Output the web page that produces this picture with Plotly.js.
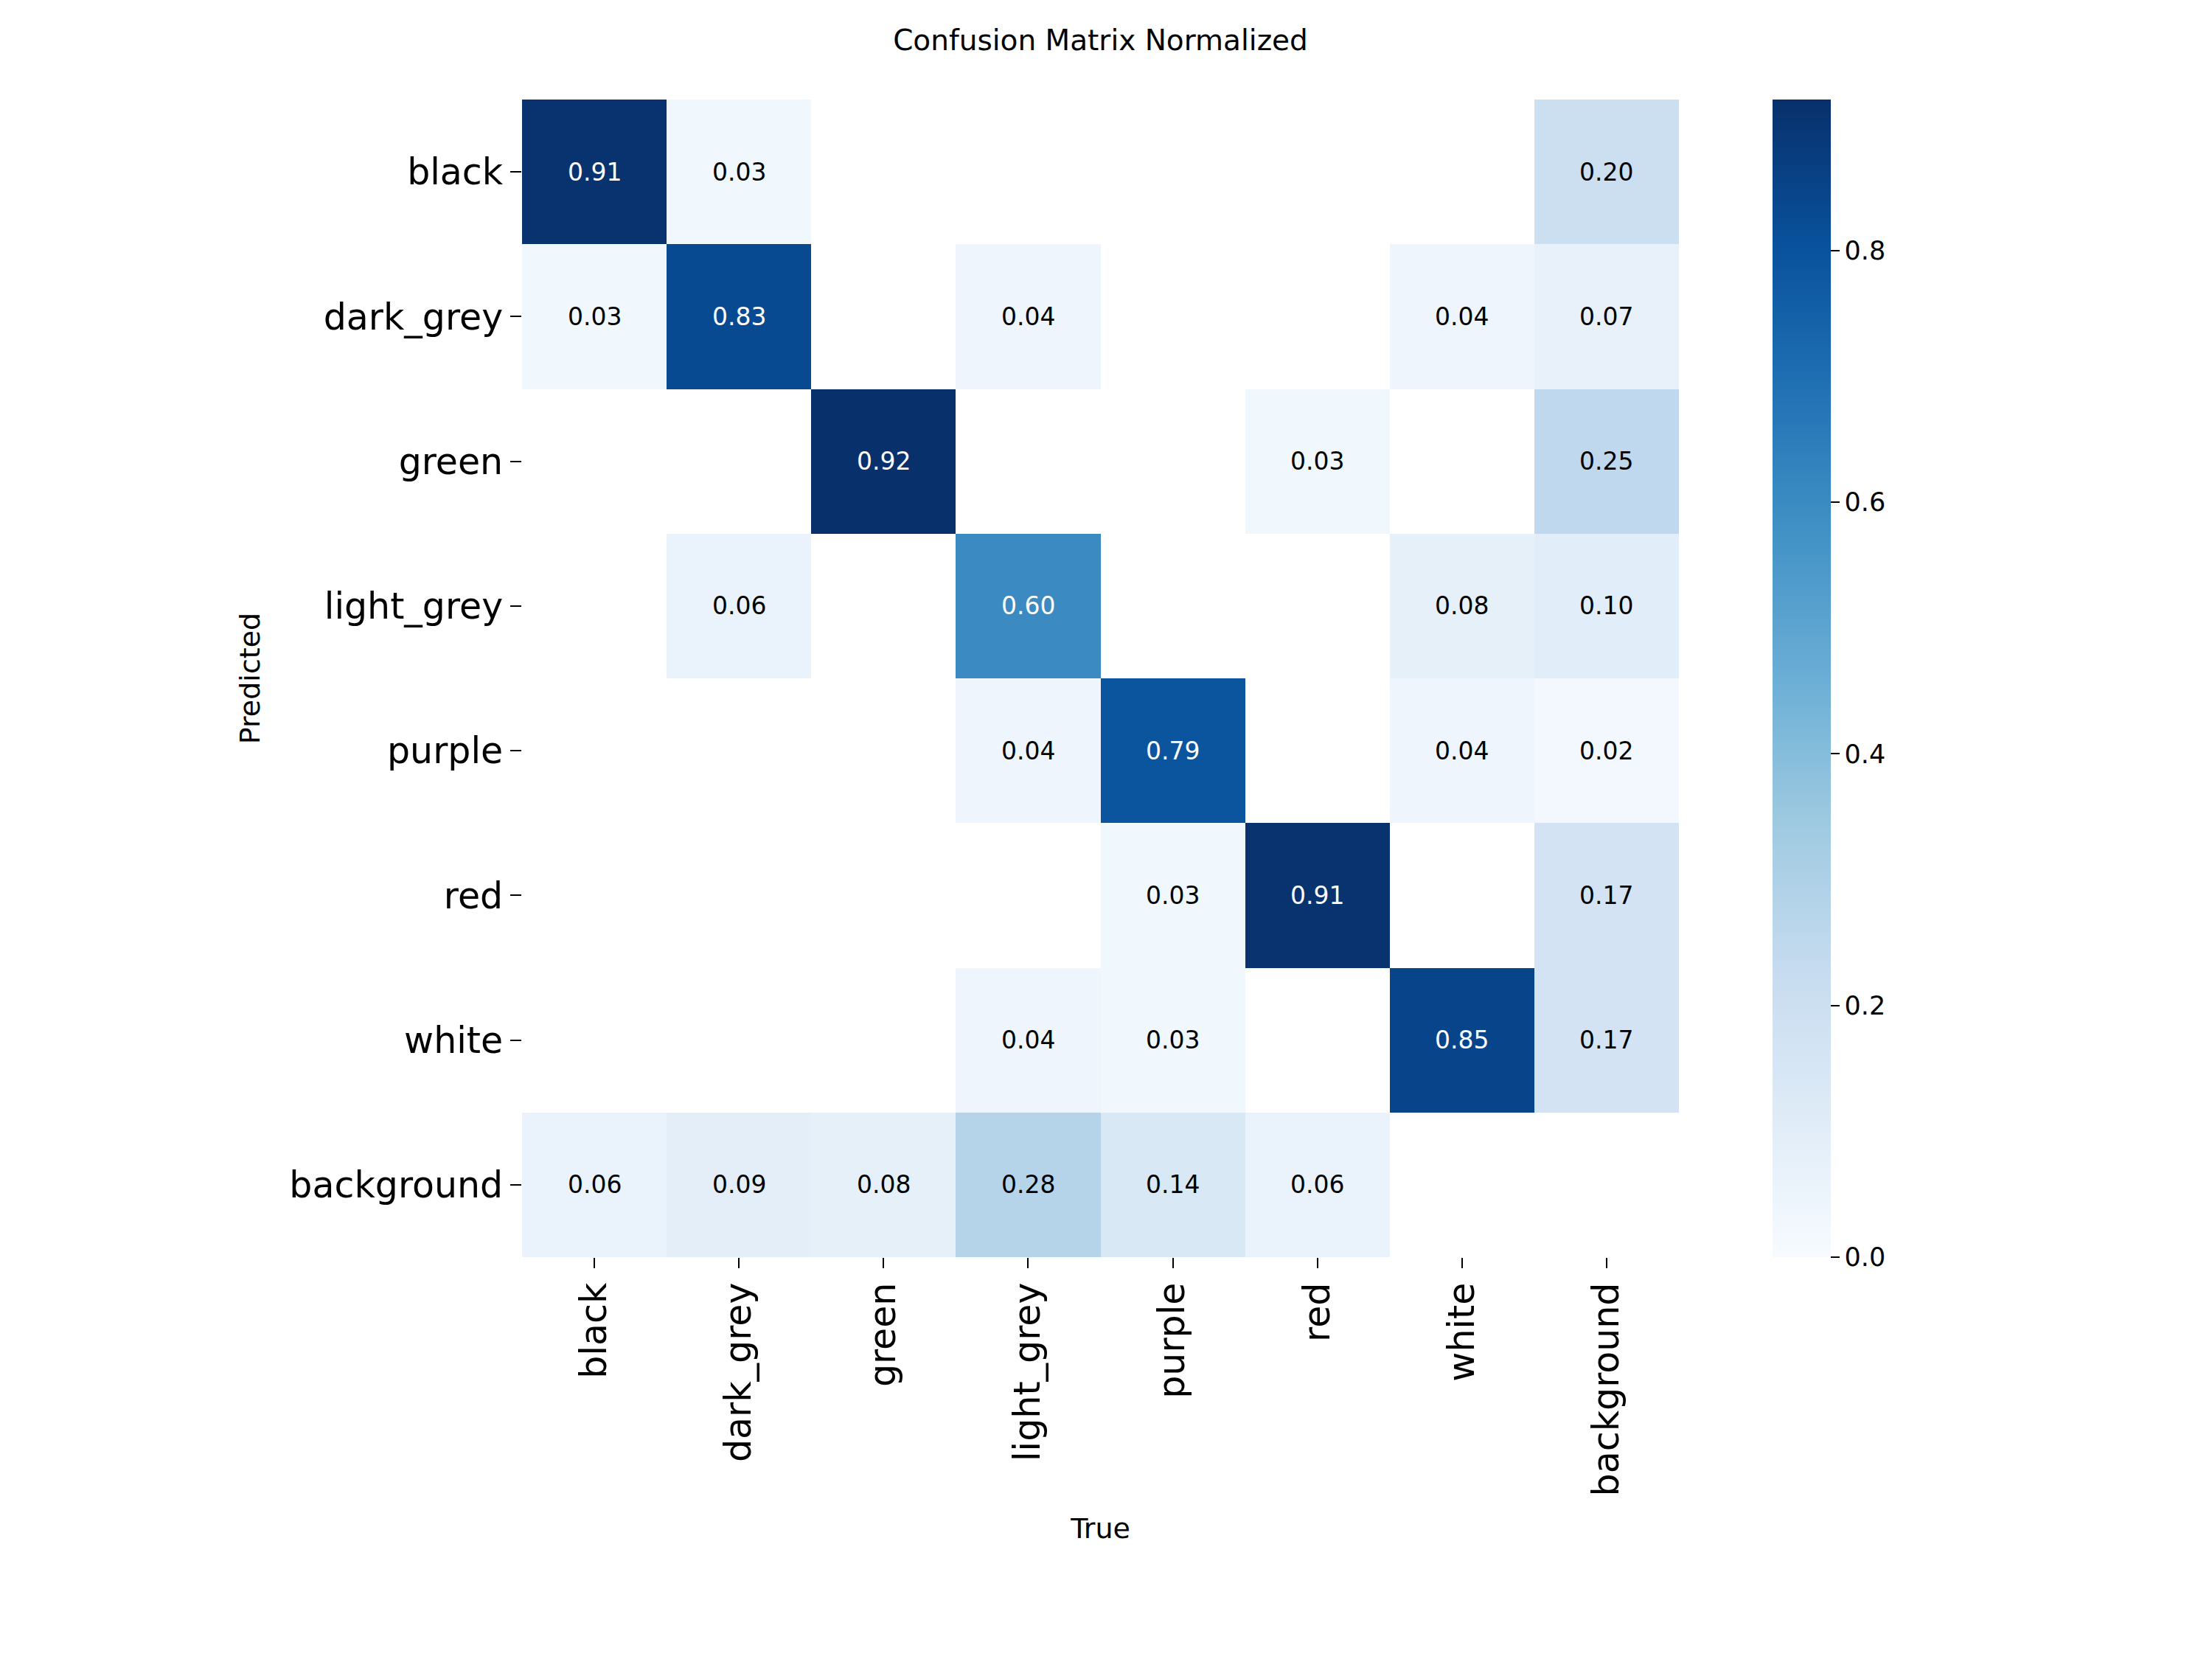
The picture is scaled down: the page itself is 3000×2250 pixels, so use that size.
<!DOCTYPE html>
<html>
<head>
<meta charset="utf-8">
<script src="https://cdn.plot.ly/plotly-3.0.1.min.js"></script>
<style>html,body{margin:0;padding:0;background:#fff;}</style>
</head>
<body>
<div id="chart" style="width:3000px;height:2250px;"></div>
<script>
// Categories
var trueLabels = ["black","dark_grey","green","light_grey","purple","red","white","background"];
var predLabels = ["black","dark_grey","green","light_grey","purple","red","white","background"];

// Rows = predicted, columns = true (null = empty cell)
var rowBlack      = [0.91, 0.03, null, null, null, null, null, 0.20];
var rowDarkGrey   = [0.03, 0.83, null, 0.04, null, null, 0.04, 0.07];
var rowGreen      = [null, null, 0.92, null, null, 0.03, null, 0.25];
var rowLightGrey  = [null, 0.06, null, 0.60, null, null, 0.08, 0.10];
var rowPurple     = [null, null, null, 0.04, 0.79, null, 0.04, 0.02];
var rowRed        = [null, null, null, null, 0.03, 0.91, null, 0.17];
var rowWhite      = [null, null, null, 0.04, 0.03, null, 0.85, 0.17];
var rowBackground = [0.06, 0.09, 0.08, 0.28, 0.14, 0.06, null, null];

var colorbarTicks = [0.0, 0.2, 0.4, 0.6, 0.8];

var z = [rowBlack, rowDarkGrey, rowGreen, rowLightGrey, rowPurple, rowRed, rowWhite, rowBackground];

var blues = [
  [0.0, "#f7fbff"], [0.125, "#deebf7"], [0.25, "#c6dbef"], [0.375, "#9ecae1"],
  [0.5, "#6baed6"], [0.625, "#4292c6"], [0.75, "#2171b5"], [0.875, "#08519c"], [1.0, "#08306b"]
];

var zmax = 0;
z.forEach(function(r){ r.forEach(function(v){ if (v !== null && v > zmax) zmax = v; }); });

var FONT = "DejaVu Sans, sans-serif";

var annotations = [];
for (var i = 0; i < predLabels.length; i++) {
  for (var j = 0; j < trueLabels.length; j++) {
    var v = z[i][j];
    if (v === null) continue;
    annotations.push({
      x: trueLabels[j], y: predLabels[i], xref: "x", yref: "y",
      text: v.toFixed(2), showarrow: false,
      font: {family: FONT, size: 33, color: (v / zmax > 0.5) ? "#ffffff" : "#000000"}
    });
  }
}

var trace = {
  type: "heatmap",
  x: trueLabels,
  y: predLabels,
  z: z,
  zmin: 0,
  zmax: zmax,
  colorscale: blues,
  hoverongaps: false,
  xgap: 0, ygap: 0,
  colorbar: {
    x: 1.081, xanchor: "left", xref: "paper",
    y: 0.5, yanchor: "middle", len: 1, lenmode: "fraction",
    thickness: 79, thicknessmode: "pixels",
    outlinewidth: 0,
    ticks: "outside", ticklen: 12, tickwidth: 2, tickcolor: "#000",
    tickvals: colorbarTicks,
    ticktext: colorbarTicks.map(function(t){ return t.toFixed(1); }),
    tickfont: {family: FONT, size: 35, color: "#000"},
    ypad: 0, xpad: 0
  }
};

var layout = {
  width: 3000, height: 2250,
  margin: {l: 708, r: 723, t: 135, b: 545, pad: 0},
  paper_bgcolor: "#ffffff",
  plot_bgcolor: "#ffffff",
  font: {family: FONT, color: "#000"},
  title: {
    text: "Confusion Matrix Normalized",
    font: {family: FONT, size: 39, color: "#000"},
    x: 0.5, xref: "paper", xanchor: "center",
    y: 1 - 54/2250, yref: "container", yanchor: "middle"
  },
  xaxis: {
    type: "category",
    title: {text: "True", font: {family: FONT, size: 38, color: "#000"}, standoff: 30},
    tickangle: -90,
    tickfont: {family: FONT, size: 49, color: "#000"},
    ticks: "outside", ticklen: 14, tickwidth: 2, tickcolor: "#000",
    showgrid: false, zeroline: false, showline: false,
    automargin: false
  },
  yaxis: {
    type: "category",
    autorange: "reversed",
    title: {text: "Predicted", font: {family: FONT, size: 38, color: "#000"}, standoff: 28},
    tickfont: {family: FONT, size: 49, color: "#000"},
    ticks: "outside", ticklen: 15, tickwidth: 2, tickcolor: "#000",
    showgrid: false, zeroline: false, showline: false,
    automargin: false
  },
  annotations: annotations
};

Plotly.newPlot("chart", [trace], layout, {displayModeBar: false, staticPlot: true});
</script>
</body>
</html>
